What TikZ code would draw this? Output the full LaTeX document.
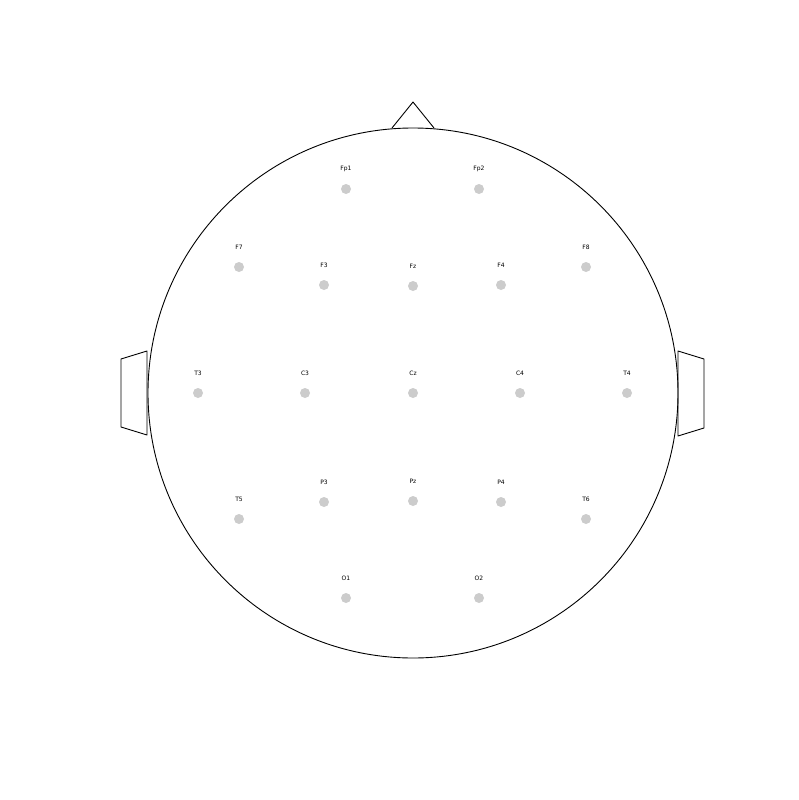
\documentclass[tikz,border=0pt]{standalone}
\usepackage{fontspec}
\setmainfont{DejaVu Sans}
\usetikzlibrary{positioning}
\begin{document}
\begin{tikzpicture}[x=1pt, y=-1pt]
        \tikzstyle{head} = [draw, line width=0.9pt, line join=round]
        \tikzstyle{elec} = [circle, fill=black!20, minimum size=10pt, inner sep=0pt]
        \tikzstyle{lbl} = [font=\fontsize{6}{7}\selectfont, inner sep=0pt]
        \useasboundingbox (0, 0) rectangle (799, 800);
        % head, nose and ears
        \node[head, circle, minimum size=530pt, inner sep=0pt] (H) at (413, 393) {};
        \coordinate (nL) at (392, 128);
        \coordinate (nT) at (413, 102);
        \coordinate (nR) at (434, 128);
        \draw[head] (nL) -- (nT) -- (nR);
        \coordinate (eL1) at (147, 351);
        \coordinate (eL2) at (121, 359);
        \coordinate (eL3) at (121, 427);
        \coordinate (eL4) at (147, 435);
        \draw[head] (eL1) -- (eL2) -- (eL3) -- (eL4) -- cycle;
        \coordinate (eR1) at (678, 351);
        \coordinate (eR2) at (704, 359);
        \coordinate (eR3) at (704, 428);
        \coordinate (eR4) at (678, 436);
        \draw[head] (eR1) -- (eR2) -- (eR3) -- (eR4) -- cycle;
        % electrodes
        \foreach \name/\px/\py in {Fp1/346/189, Fp2/479/189,
            F7/239/267, F3/324/285, Fz/413/286, F4/501/285, F8/586/267,
            T3/198/393, C3/305/393, Cz/413/393, C4/520/393, T4/627/393,
            T5/239/519, P3/324/502, Pz/413/501, P4/501/502, T6/586/519,
            O1/346/598, O2/479/598} {
          \node[elec] (\name) at (\px, \py) {};
          \node[lbl] (\name-l) at ([yshift=20pt]\name.center) {\name};
        }
      \end{tikzpicture}
\end{document}
